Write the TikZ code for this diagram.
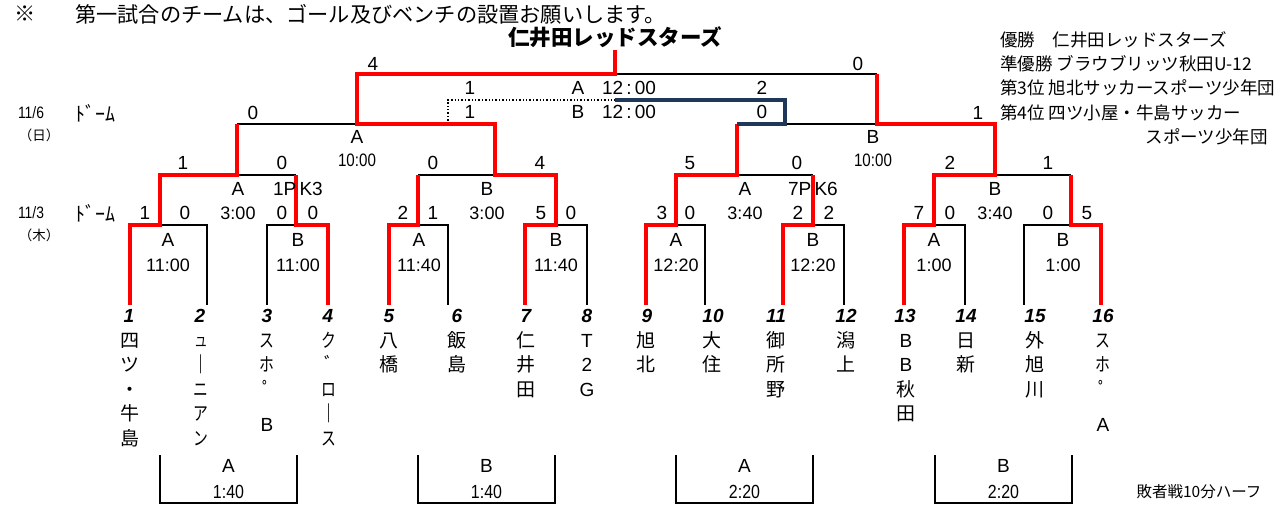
\documentclass[tikz,border=0pt]{standalone}
\usepackage{fontspec}
\setmainfont{Noto Sans CJK JP}
\newfontfamily\lat{Liberation Sans}
\newfontfamily\nar[FakeStretch=0.84]{Liberation Sans}
\newfontfamily\kn[FakeStretch=0.78]{Noto Sans CJK JP}
\definecolor{wred}{RGB}{255,0,0}
\definecolor{navy}{RGB}{31,56,90}
\tikzset{
  every node/.style={inner sep=0pt},
  win/.style={wred,line width=4pt,line join=miter},
  lose/.style={black,line width=1.6pt,line join=miter},
  thirdw/.style={navy,line width=4pt,line join=miter},
  dotl/.style={black,line width=1.4pt,dotted},
  hd/.style={font=\fontsize{21.2}{21.2}\selectfont},
  ttl/.style={font=\bfseries\fontsize{21.5}{21.5}\selectfont},
  leg/.style={font=\fontsize{17.5}{17.5}\selectfont,anchor=west},
  sc/.style={font=\lat\fontsize{19}{19}\selectfont},
  tm/.style={font=\lat\fontsize{18}{18}\selectfont},
  tms/.style={font=\nar\fontsize{18}{18}\selectfont},
  tmc/.style={font=\nar\fontsize{19}{19}\selectfont},
  num/.style={font=\lat\bfseries\itshape\fontsize{19}{19}\selectfont},
  nm/.style={font=\fontsize{19}{24.5}\selectfont,align=center,anchor=north},
  day/.style={font=\nar\fontsize{16.5}{16.5}\selectfont},
  wk/.style={font=\fontsize{13.5}{13.5}\selectfont},
  dome/.style={font=\fontsize{20}{20}\selectfont},
}
\newcommand{\fl}{\rule{0pt}{17pt}}
\begin{document}
\begin{tikzpicture}[x=1pt,y=-1pt]
\useasboundingbox (0,0) rectangle (1280,510);
% header, title, legend
\node[hd] (note) at (25,14) {※};
\node[hd,anchor=west] (hdr) at (75,14) {第一試合のチームは、ゴール及びベンチの設置お願いします。};
\node[ttl] (champ) at (615,37) {仁井田レッドスターズ};
\node[leg] (lg1) at (1000,40) {優勝　仁井田レッドスターズ};
\node[leg] (lg2) at (1000,64) {準優勝 ブラウブリッツ秋田U-12};
\node[leg] (lg3) at (1000,88) {第3位 旭北サッカースポーツ少年団};
\node[leg] (lg4) at (1000,113) {第4位 四ツ小屋・牛島サッカー};
\node[leg,anchor=east] (lg5) at (1268,137) {スポーツ少年団};
% day labels
\node[day] (d1) at (31,113) {11/6};
\node[dome] (dm1) at (95,113) {ﾄﾞｰﾑ};
\node[wk] (w1) at (39,135) {（日）};
\node[day] (d2) at (31,213) {11/3};
\node[dome] (dm2) at (95,213) {ﾄﾞｰﾑ};
\node[wk] (w2) at (39,235) {（木）};
% coordinates: team bottoms and first-round corners
\foreach \n/\x in {1/130,2/207,3/267,4/328,5/389,6/448,7/525,8/587,9/646,10/705,11/783,12/844,13/904,14/965,15/1024,16/1101}{
  \coordinate (b\n) at (\x,305);
  \coordinate (c\n) at (\x,225);
}
\foreach \n/\x in {1/160,2/296,3/418,4/556,5/676,6/813,7/934,8/1071}{
  \coordinate (j\n) at (\x,225);
  \coordinate (k\n) at (\x,175);
}
\coordinate (q1) at (237,175);
\coordinate (q2) at (495,175);
\coordinate (q3) at (737,175);
\coordinate (q4) at (995,175);
\coordinate (s1l) at (237,124);
\coordinate (s1) at (357,124);
\coordinate (s1r) at (495,124);
\coordinate (s2l) at (737,124);
\coordinate (s2) at (877,124);
\coordinate (s2r) at (995,124);
\coordinate (fl) at (357,74);
\coordinate (f) at (615,74);
\coordinate (fr) at (877,74);
\coordinate (top) at (615,50);
\coordinate (tpl) at (448,100);
\coordinate (tplb) at (448,124);
\coordinate (tp) at (615,100);
\coordinate (tpr) at (785,100);
\coordinate (tprb) at (785,124);
% losers (black)
\draw[lose] (j1)--(c2)--(b2);
\draw[lose] (j2)--(c3)--(b3);
\draw[lose] (j3)--(c6)--(b6);
\draw[lose] (j4)--(c8)--(b8);
\draw[lose] (j5)--(c10)--(b10);
\draw[lose] (j6)--(c12)--(b12);
\draw[lose] (j7)--(c14)--(b14);
\draw[lose] (j8)--(c15)--(b15);
\draw[lose] (q1)--(k2);
\draw[lose] (q2)--(k3);
\draw[lose] (q3)--(k6);
\draw[lose] (q4)--(k8);
\draw[lose] (s1l)--(s1);
\draw[lose] (tprb)--(s2);
\draw[lose] (f)--(fr);
\draw[dotl] (tplb)--(tpl)--(tp);
% winners (red)
\draw[win] (b1)--(c1)--(j1)--(k1)--(q1)--(s1l);
\draw[win] (b4)--(c4)--(j2)--(k2);
\draw[win] (b5)--(c5)--(j3)--(k3);
\draw[win] (b7)--(c7)--(j4)--(k4)--(q2)--(s1r)--(s1)--(fl)--(f)--(top);
\draw[win] (b9)--(c9)--(j5)--(k5)--(q3)--(s2l);
\draw[win] (b11)--(c11)--(j6)--(k6);
\draw[win] (b13)--(c13)--(j7)--(k7)--(q4)--(s2r)--(s2)--(fr);
\draw[win] (b16)--(c16)--(j8)--(k8);
\draw[thirdw] (s2l)--(tprb)--(tpr)--(tp);
% final and third place labels
\node[sc] (fs1) at (373,64) {4};
\node[sc] (fs2) at (858,64) {0};
\node[sc] (ts1) at (470,88) {1};
\node[sc] (tc1) at (578,88) {A};
\node[sc] (tt1) at (629,88) {12\,:\,00};
\node[sc] (ts2) at (762,88) {2};
\node[sc] (ss2) at (470,112) {1};
\node[sc] (tc2) at (578,112) {B};
\node[sc] (tt2) at (629,112) {12\,:\,00};
\node[sc] (ss3) at (762,112) {0};
% semi labels
\node[sc] (ss1) at (253,113) {0};
\node[sc] (ss4) at (978,113) {1};
\node[sc] (sa) at (357,137) {A};
\node[tms] (sta) at (357,160) {10:00};
\node[sc] (sb) at (873,137) {B};
\node[tms] (stb) at (873,160) {10:00};
% quarter labels
\node[sc] (qs1) at (183,163) {1};
\node[sc] (qs2) at (282,163) {0};
\node[sc] (qa1) at (238,189) {A};
\node[sc] (qp1) at (298,189) {1P\,K3};
\node[tm] (qt1) at (238,213) {3:00};
\node[sc] (qs3) at (433,163) {0};
\node[sc] (qs4) at (540,163) {4};
\node[sc] (qb1) at (487,189) {B};
\node[tm] (qt2) at (487,213) {3:00};
\node[sc] (qs5) at (690,163) {5};
\node[sc] (qs6) at (797,163) {0};
\node[sc] (qa2) at (745,189) {A};
\node[sc] (qp2) at (813,189) {7P\,K6};
\node[tm] (qt3) at (745,213) {3:40};
\node[sc] (qs7) at (950,163) {2};
\node[sc] (qs8) at (1048,163) {1};
\node[sc] (qb2) at (995,189) {B};
\node[tm] (qt4) at (995,213) {3:40};
% first round scores
\node[sc] (r1) at (145,213) {1};
\node[sc] (r2) at (185,213) {0};
\node[sc] (r3) at (282,213) {0};
\node[sc] (r4) at (313,213) {0};
\node[sc] (r5) at (403,213) {2};
\node[sc] (r6) at (433,213) {1};
\node[sc] (r7) at (541,213) {5};
\node[sc] (r8) at (571,213) {0};
\node[sc] (r9) at (662,213) {3};
\node[sc] (r10) at (690,213) {0};
\node[sc] (r11) at (798,213) {2};
\node[sc] (r12) at (829,213) {2};
\node[sc] (r13) at (919,213) {7};
\node[sc] (r14) at (950,213) {0};
\node[sc] (r15) at (1048,213) {0};
\node[sc] (r16) at (1087,213) {5};
% first round court/time
\foreach \m/\x/\c/\t in {1/168/A/11:00,2/298/B/11:00,3/419/A/11:40,4/556/B/11:40,5/676/A/12:20,6/813/B/12:20,7/934/A/1:00,8/1063/B/1:00}{
  \node[sc] (mc\m) at (\x,240) {\c};
  \node[tm] (mt\m) at (\x,265) {\t};
}
% team numbers
\foreach \n/\x in {1/129,2/200,3/267,4/328,5/389,6/457,7/526,8/587,9/647,10/713,11/776,12/846,13/905,14/966,15/1035,16/1103}{
  \node[num] (n\n) at (\x,316) {\n};
}
% team names
\node[nm] (t1) at (130,330) {\fl 四\\ツ\\・\\牛\\島};
\node[nm] (t2) at (201,330) {\fl{\kn\fontsize{15}{24.5}\selectfont ユ}\\｜\\{\kn ニ}\\{\kn ア}\\{\kn ン}};
\node[nm] (t3) at (267,330) {\fl{\kn ス}\\{\kn ホ}\\ﾟ\\[11pt]{\lat B}};
\node[nm] (t4) at (329,330) {\fl{\kn ク}\\ﾞ\\{\kn ロ}\\｜\\{\kn ス}};
\node[nm] (t5) at (389,330) {\fl 八\\橋};
\node[nm] (t6) at (457,330) {\fl 飯\\島};
\node[nm] (t7) at (526,330) {\fl 仁\\井\\田};
\node[nm] (t8) at (587,330) {\fl{\lat T}\\{\lat 2}\\{\lat G}};
\node[nm] (t9) at (646,330) {\fl 旭\\北};
\node[nm] (t10) at (712,330) {\fl 大\\住};
\node[nm] (t11) at (776,330) {\fl 御\\所\\野};
\node[nm] (t12) at (846,330) {\fl 潟\\上};
\node[nm] (t13) at (906,330) {\fl{\lat B}\\{\lat B}\\秋\\田};
\node[nm] (t14) at (966,330) {\fl 日\\新};
\node[nm] (t15) at (1035,330) {\fl 外\\旭\\川};
\node[nm] (t16) at (1103,330) {\fl{\kn ス}\\{\kn ホ}\\ﾟ\\[11pt]{\lat A}};
% consolation brackets
\foreach \i/\a/\b/\c/\t in {1/160/297/A/1:40,2/418/555/B/1:40,3/676/813/A/2:20,4/935/1072/B/2:20}{
  \coordinate (ca\i) at (\a,455);
  \coordinate (cb\i) at (\a,503);
  \coordinate (cc\i) at (\b,503);
  \coordinate (cd\i) at (\b,455);
  \draw[lose] (ca\i)--(cb\i)--(cc\i)--(cd\i);
  \node[sc] (cl\i) at ({(\a+\b)/2},466) {\c};
  \node[tmc] (ct\i) at ({(\a+\b)/2},492) {\t};
}
\node[font=\fontsize{15.5}{15.5}\selectfont] (cons) at (1199,492) {敗者戦10分ハーフ};
\end{tikzpicture}
\end{document}
